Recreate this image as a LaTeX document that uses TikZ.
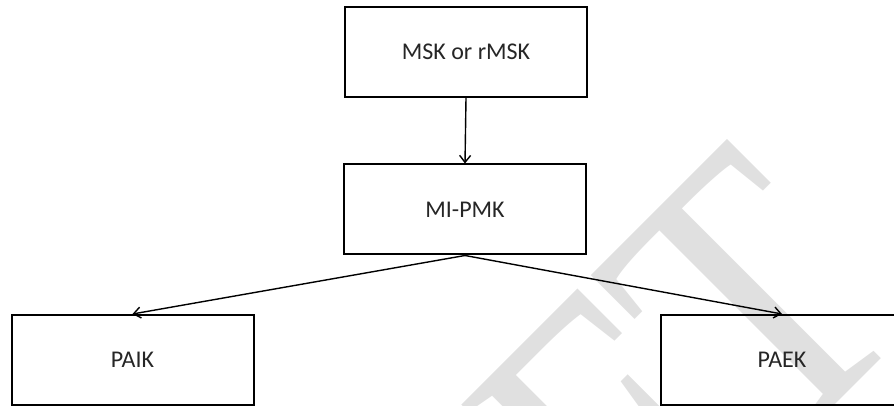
\documentclass[tikz,border=0pt]{standalone}
\usepackage{fontspec}
\setmainfont{Carlito}
\newfontfamily\wmfont{Liberation Serif}
\usetikzlibrary{arrows.meta}

\tikzset{
  keybox/.style={draw=black, line width=2pt, minimum width=242pt, minimum height=90pt,
    inner sep=0pt, font=\fontsize{24}{28}\selectfont, text=black!85},
  derive/.style={line width=1.4pt, -{Straight Barb[length=7pt,width=11pt,line width=1.4pt]}},
  watermark/.style={rotate=45, anchor=base east, inner sep=0pt, text=black!12,
    font=\wmfont\fontsize{403}{403}\selectfont}
}

\begin{document}
\begin{tikzpicture}[x=1pt,y=1pt]
  \useasboundingbox (0,0) rectangle (894,406);
  \clip (0,0) rectangle (894,406);

  % faint background watermark
  \node[watermark] (wm) at (918,84) {\scalebox{0.83}[1]{DRAFT}};

  % key hierarchy
  \node[keybox] (msk)  at (466,354)   {MSK or rMSK};
  \node[keybox] (mpmk) at (465,196.5) {MI-PMK};
  \node[keybox] (paik) at (132.5,46)  {PAIK};
  \node[keybox] (paek) at (782,46)    {PAEK};

  \draw[derive] (msk.south) -- (mpmk.north);
  \draw[derive] (mpmk.south) -- (paik.north);
  \draw[derive] (mpmk.south) -- (paek.north);
\end{tikzpicture}
\end{document}
